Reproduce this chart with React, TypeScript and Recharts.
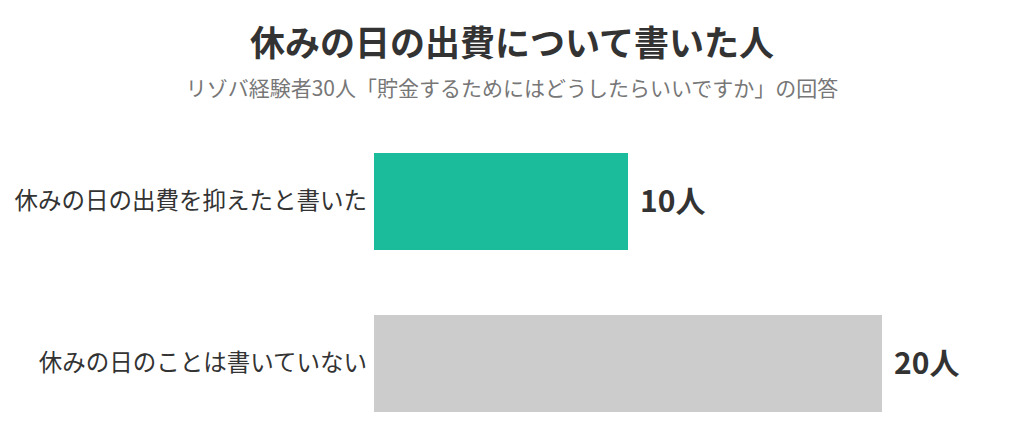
import React from 'react';
import { BarChart, Bar, XAxis, YAxis, Cell, LabelList } from 'recharts';

const categories = ['休みの日の出費を抑えたと書いた', '休みの日のことは書いていない'];
const values = [10, 20];
const colors = ['#1ABC9C', '#CCCCCC'];
const unit = '人';
const title = '休みの日の出費について書いた人';
const subtitle = 'リゾバ経験者30人「貯金するためにはどうしたらいいですか」の回答';

const data = categories.map((name, i) => ({ name, value: values[i] }));

const FONT = '"Noto Sans CJK JP", "Noto Sans", sans-serif';

export default function App() {
  return (
    <div style={{ position: 'absolute', left: 0, top: 0, width: 1024, height: 440, overflow: 'hidden', background: '#fff', fontFamily: FONT }}>
      <svg width={1024} height={120} style={{ position: 'absolute', left: 0, top: 0 }}>
        <text x={512} y={40} textAnchor="middle" dominantBaseline="central" fontSize={35} fontWeight="bold" fill="#333" fontFamily={FONT}>{title}</text>
        <text x={512} y={87} textAnchor="middle" dominantBaseline="central" fontSize={21} fill="#777" fontFamily={FONT}>{subtitle}</text>
      </svg>
      <div style={{ position: 'absolute', left: 0, top: 0 }}>
        <BarChart width={1024} height={460} data={data} layout="vertical" margin={{ top: 120, right: 142, bottom: 16, left: 0 }}>
          <XAxis type="number" domain={[0, 20]} hide />
          <YAxis
            type="category"
            dataKey="name"
            width={374}
            axisLine={false}
            tickLine={false}
            tickSize={0}
            tickMargin={7}
            tick={{ fontSize: 23.5, fill: '#333', fontFamily: FONT }}
          />
          <Bar dataKey="value" barSize={97} isAnimationActive={false}>
            {data.map((d, i) => (
              <Cell key={d.name} fill={colors[i]} />
            ))}
            <LabelList
              dataKey="value"
              position="right"
              offset={12}
              formatter={(v: number) => `${v}${unit}`}
              style={{ fontSize: 30, fontWeight: 'bold', fill: '#333', fontFamily: FONT }}
            />
          </Bar>
        </BarChart>
      </div>
    </div>
  );
}
